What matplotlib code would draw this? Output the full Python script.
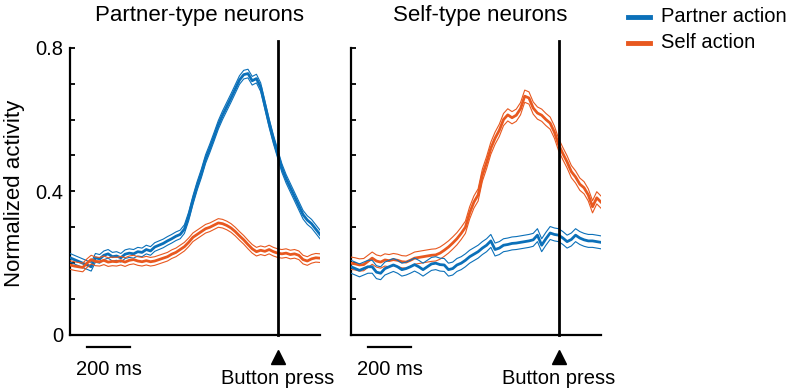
"""Partner-type vs self-type neurons: normalized activity aligned to button press."""
import numpy as np
import matplotlib
matplotlib.use("Agg")
import matplotlib.pyplot as plt  # noqa: E402

plt.rcParams["font.family"] = ["Liberation Sans", "DejaVu Sans"]

BLUE = "#0B70B9"
ORANGE = "#E8581F"

# time grid (ms relative to button press)
time_ms = np.arange(-980, 201, 20)

# partner-type neurons
partner_partner = [
    0.215, 0.21, 0.205, 0.20, 0.195, 0.19, 0.215, 0.212, 0.222, 0.226,
    0.218, 0.22, 0.215, 0.225, 0.228, 0.226, 0.232, 0.23, 0.238, 0.234,
    0.245, 0.25, 0.255, 0.262, 0.268, 0.275, 0.28, 0.295, 0.33, 0.375,
    0.415, 0.45, 0.49, 0.52, 0.552, 0.585, 0.612, 0.636, 0.66, 0.685,
    0.71, 0.725, 0.728, 0.708, 0.714, 0.69, 0.64, 0.59, 0.545, 0.505,
    0.465, 0.435, 0.41, 0.385, 0.36, 0.335, 0.32, 0.31, 0.295, 0.28,
]
partner_self = [
    0.195, 0.192, 0.19, 0.188, 0.2, 0.21, 0.205, 0.204, 0.208, 0.203,
    0.205, 0.204, 0.207, 0.203, 0.208, 0.21, 0.206, 0.204, 0.207, 0.204,
    0.206, 0.21, 0.214, 0.218, 0.225, 0.23, 0.238, 0.246, 0.258, 0.272,
    0.28, 0.288, 0.296, 0.30, 0.306, 0.312, 0.31, 0.305, 0.298, 0.288,
    0.276, 0.265, 0.252, 0.24, 0.232, 0.236, 0.233, 0.238, 0.232, 0.228,
    0.226, 0.228, 0.224, 0.226, 0.222, 0.21, 0.206, 0.212, 0.215, 0.214,
]

# self-type neurons
self_partner = [
    0.19, 0.185, 0.18, 0.185, 0.19, 0.19, 0.175, 0.172, 0.185, 0.19,
    0.195, 0.19, 0.182, 0.185, 0.19, 0.196, 0.19, 0.182, 0.19, 0.198,
    0.20, 0.196, 0.195, 0.182, 0.185, 0.195, 0.20, 0.208, 0.218, 0.225,
    0.232, 0.242, 0.25, 0.262, 0.238, 0.242, 0.25, 0.252, 0.255, 0.256,
    0.258, 0.26, 0.262, 0.265, 0.278, 0.25, 0.268, 0.284, 0.28, 0.278,
    0.27, 0.26, 0.266, 0.278, 0.27, 0.265, 0.262, 0.262, 0.26, 0.258,
]
self_self = [
    0.20, 0.198, 0.195, 0.196, 0.205, 0.214, 0.206, 0.203, 0.209, 0.207,
    0.21, 0.208, 0.204, 0.203, 0.208, 0.214, 0.216, 0.218, 0.22, 0.222,
    0.223, 0.228, 0.236, 0.245, 0.256, 0.268, 0.283, 0.30, 0.34, 0.37,
    0.39, 0.445, 0.48, 0.52, 0.548, 0.57, 0.60, 0.613, 0.605, 0.612,
    0.63, 0.665, 0.66, 0.632, 0.618, 0.612, 0.60, 0.59, 0.565, 0.53,
    0.505, 0.482, 0.455, 0.44, 0.42, 0.41, 0.39, 0.357, 0.382, 0.37,
]

# standard error (half band width) per trace
se_partner_partner = 0.012
se_partner_self = 0.012
se_self_partner = 0.018
se_self_self = 0.017

panels = [
    ("Partner-type neurons", [(partner_partner, se_partner_partner, BLUE),
                              (partner_self, se_partner_self, ORANGE)]),
    ("Self-type neurons", [(self_self, se_self_self, ORANGE),
                           (self_partner, se_self_partner, BLUE)]),
]

W, H = 787, 391
fig = plt.figure(figsize=(W / 100, H / 100), dpi=100)
lefts = [70, 351]
axes = [fig.add_axes([x / W, 1 - 335 / H, 250 / W, 287.3 / H]) for x in lefts]

for i, (ax, (title, traces)) in enumerate(zip(axes, panels)):
    for mean, se, col in traces:
        m = np.asarray(mean)
        ax.plot(time_ms, m, color=col, lw=2.0, zorder=3)
        ax.plot(time_ms, m + se, color=col, lw=0.8, zorder=3)
        ax.plot(time_ms, m - se, color=col, lw=0.8, zorder=3)
    ax.plot([0, 0], [0, 0.82], color="black", lw=2.0, clip_on=False, zorder=4)
    ax.set_xlim(-980, 200)
    ax.set_ylim(0, 0.8)
    for s in ("top", "right"):
        ax.spines[s].set_visible(False)
    for s in ("left", "bottom"):
        ax.spines[s].set_linewidth(1.6)
    ax.set_xticks([])
    ax.set_yticks([0, 0.4, 0.8])
    ax.set_yticks(np.arange(0.1, 0.8, 0.1), minor=True)
    ax.tick_params(axis="y", which="both", direction="in", length=3.5, width=1.3,
                   labelsize=14.5, pad=5)
    if i == 0:
        ax.set_yticklabels(["0", "0.4", "0.8"])
    else:
        ax.set_yticklabels([])
    fig.text((lefts[i] + 129.5) / W, 1 - 16 / H, title, ha="center", va="center",
             fontsize=16)

    # scale bar, button-press marker
    ax.plot([-898, -698], [-0.034, -0.034], color="black", lw=1.6, clip_on=False)
    ax.text(-795, -0.095, "200 ms", ha="center", va="center", fontsize=14.5)
    ax.plot([0], [-0.06], marker="^", color="black", markersize=10, clip_on=False)
    ax.text(0, -0.122, "Button press", ha="center", va="center", fontsize=14.5)

fig.text(15 / W, 1 - 193 / H, "Normalized activity", rotation=90,
         ha="center", va="center", fontsize=16)

# legend
for y, label, col in [(17, "Partner action", BLUE), (43, "Self action", ORANGE)]:
    fig.add_artist(plt.Line2D([628 / W, 650 / W], [1 - y / H, 1 - y / H],
                              color=col, lw=3.5))
    fig.text(661 / W, 1 - y / H, label, ha="left", va="center", fontsize=14.5)

fig.savefig("out.png", dpi=100)
